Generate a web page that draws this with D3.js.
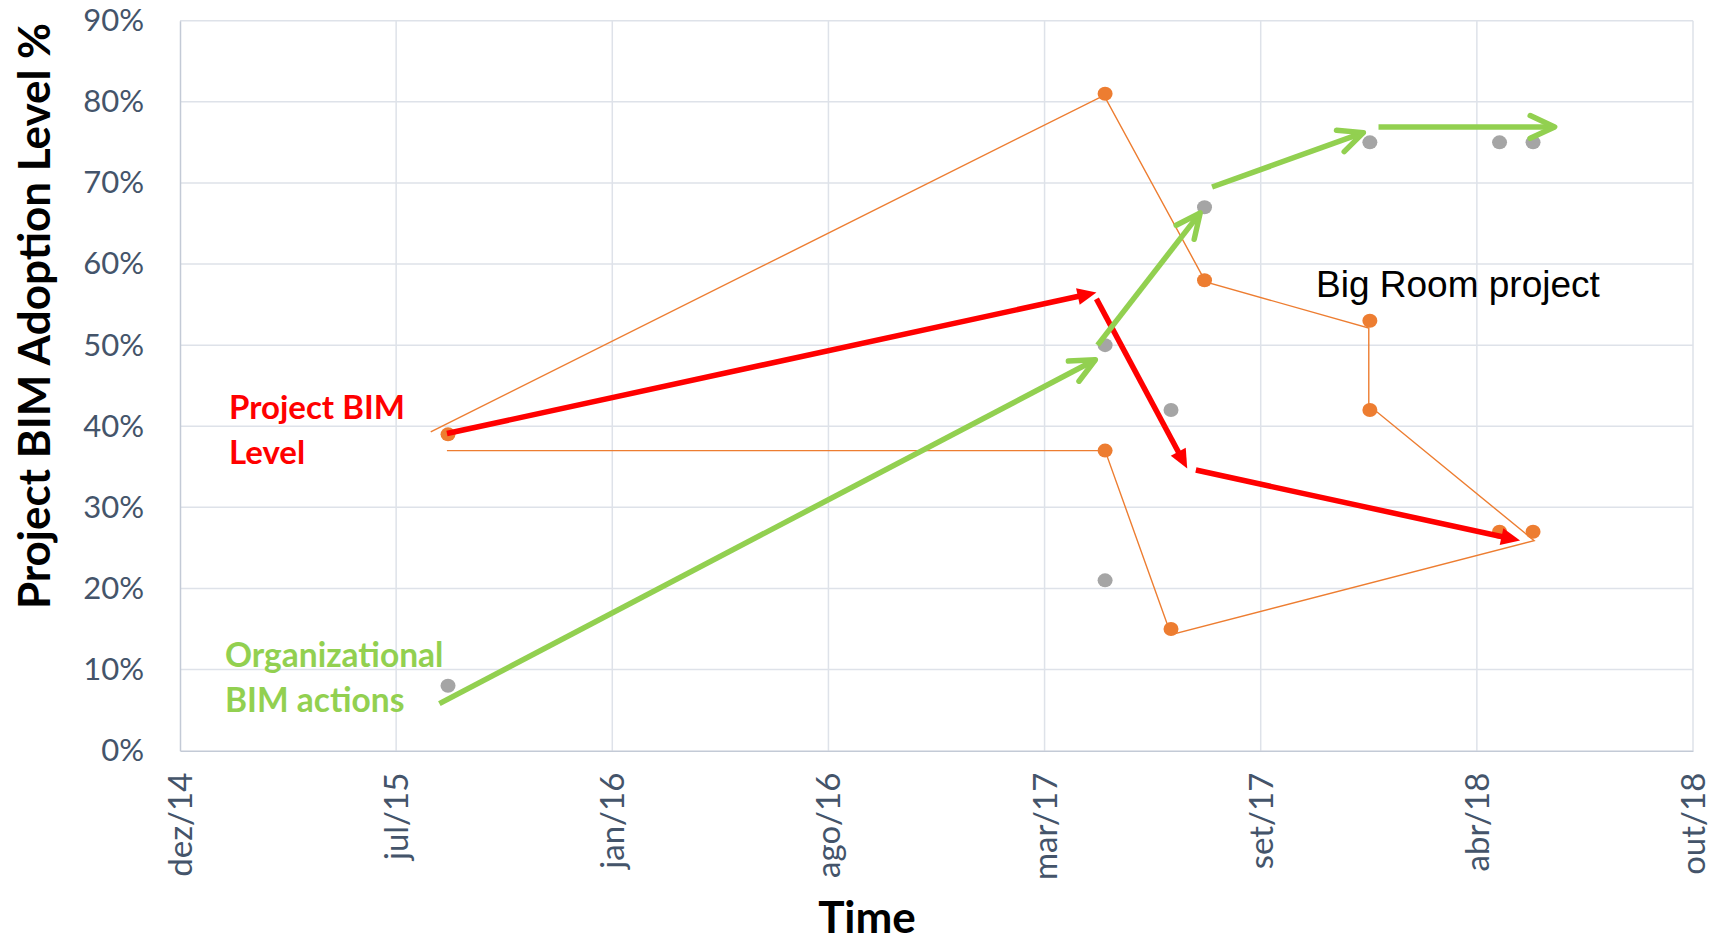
<!DOCTYPE html>
<html>
<head>
<meta charset="utf-8">
<script src="https://cdn.jsdelivr.net/npm/d3@7"></script>
<style>
  html, body { margin: 0; padding: 0; background: #fff; }
  svg { display: block; }
</style>
</head>
<body>
<svg id="chart" width="1719" height="943"></svg>
<script>
// ---- Axis definition (date axis with a 200-day major unit) ----
const axisStart = "2014-12-27";
const tickStepDays = 200;
const tickLabels = ["dez/14", "jul/15", "jan/16", "ago/16", "mar/17", "set/17", "abr/18", "out/18"];
const yTicks = [0, 10, 20, 30, 40, 50, 60, 70, 80, 90];

// ---- Organizational BIM actions (grey points) ----
const orgDates  = ["2015-09-01", "2017-05-01", "2017-05-01", "2017-07-01", "2017-08-01", "2018-01-01", "2018-05-01", "2018-06-01"];
const orgValues = [8, 50, 21, 42, 67, 75, 75, 75];

// ---- Project BIM level (orange points) ----
const projDates  = ["2015-09-01", "2017-05-01", "2017-05-01", "2017-07-01", "2017-08-01", "2018-01-01", "2018-01-01", "2018-05-01", "2018-06-01"];
const projValues = [39, 81, 37, 15, 58, 53, 42, 27, 27];

// ---- Big Room project trace (thin orange polyline) ----
const traceDates  = ["2015-08-16", "2017-04-30", "2017-08-02", "2017-12-31", "2017-12-31", "2018-06-02", "2017-07-01", "2017-05-01", "2015-08-31"];
const traceValues = [39.3, 80.8, 57.8, 52.1, 42.6, 25.9, 14.3, 37.0, 37.0];

// ---- Trend arrows: [fromDate, fromValue, toDate, toValue] ----
const projectTrend = [
  ["2015-08-31", 39.1, "2017-04-23", 56.5],
  ["2017-04-23", 55.7, "2017-07-16", 34.8],
  ["2017-07-24", 34.6, "2018-05-20", 25.9]
];
const orgTrend = [
  ["2015-08-24", 5.8, "2017-04-22", 48.2],
  ["2017-04-24", 50.0, "2017-07-28", 66.3],
  ["2017-08-08", 69.5, "2017-12-26", 76.2],
  ["2018-01-09", 76.9, "2018-06-21", 76.9]
];

// ---- Layout ----
const W = 1719, H = 943;
const plot = { left: 180, right: 1693, top: 20.7, bottom: 750.7 };

const parse = d3.utcParse("%Y-%m-%d");
const start = parse(axisStart);
const tickDates = tickLabels.map((_, i) => d3.utcDay.offset(start, i * tickStepDays));

const x = d3.scaleUtc()
  .domain([tickDates[0], tickDates[tickDates.length - 1]])
  .range([plot.left, plot.right]);
const y = d3.scaleLinear()
  .domain([0, 90])
  .range([plot.bottom, plot.top]);

const svg = d3.select("#chart");
const tickColor = "#44546A";
const gridColor = "#DEE2E9";
const axisColor = "#C3CAD6";
const uiFont = "Lato, 'Open Sans', sans-serif";

// ---- Gridlines ----
const grid = svg.append("g");
grid.selectAll("line.h")
  .data(yTicks.filter(v => v > 0))
  .join("line")
  .attr("x1", plot.left).attr("x2", plot.right)
  .attr("y1", d => y(d)).attr("y2", d => y(d))
  .attr("stroke", gridColor).attr("stroke-width", 1.5);
grid.selectAll("line.v")
  .data(tickDates.slice(1))
  .join("line")
  .attr("x1", d => x(d)).attr("x2", d => x(d))
  .attr("y1", plot.top).attr("y2", plot.bottom)
  .attr("stroke", gridColor).attr("stroke-width", 1.5);

// ---- Axes ----
const yAxis = d3.axisLeft(y)
  .tickValues(yTicks)
  .tickFormat(d => d + "%")
  .tickSize(0)
  .tickPadding(36);
const gy = svg.append("g")
  .attr("transform", `translate(${plot.left},0)`)
  .call(yAxis);
gy.select(".domain").attr("stroke", axisColor).attr("stroke-width", 1.5);
gy.selectAll("text")
  .attr("fill", tickColor)
  .style("font-family", uiFont)
  .style("font-size", "31px");

const xAxis = d3.axisBottom(x)
  .tickValues(tickDates)
  .tickFormat((d, i) => tickLabels[i])
  .tickSize(0);
const gx = svg.append("g")
  .attr("transform", `translate(0,${plot.bottom})`)
  .call(xAxis);
gx.select(".domain").attr("stroke", axisColor).attr("stroke-width", 1.5);
gx.selectAll("text")
  .attr("fill", tickColor)
  .style("font-family", uiFont)
  .style("font-size", "33px")
  .attr("text-anchor", "end")
  .attr("x", 0)
  .attr("y", 0)
  .attr("dy", "0.35em")
  .attr("transform", "translate(0,22) rotate(-90)");

// ---- Axis titles ----
svg.append("text")
  .attr("transform", "translate(50,316) rotate(-90)")
  .attr("text-anchor", "middle")
  .style("font-family", uiFont)
  .style("font-weight", 700)
  .style("font-size", "44px")
  .attr("fill", "#000")
  .text("Project BIM Adoption Level %");

svg.append("text")
  .attr("x", 867).attr("y", 933)
  .attr("text-anchor", "middle")
  .style("font-family", uiFont)
  .style("font-weight", 700)
  .style("font-size", "44px")
  .attr("fill", "#000")
  .text("Time");

// ---- Big Room trace ----
const traceLine = d3.line()
  .x(d => x(parse(d[0])))
  .y(d => y(d[1]));
svg.append("path")
  .datum(d3.zip(traceDates, traceValues))
  .attr("d", traceLine)
  .attr("fill", "none")
  .attr("stroke", "#ED7D31")
  .attr("stroke-width", 1.4)
  .attr("stroke-linejoin", "miter");

// ---- Points ----
svg.append("g").selectAll("ellipse")
  .data(d3.zip(orgDates, orgValues))
  .join("ellipse")
  .attr("cx", d => x(parse(d[0])))
  .attr("cy", d => y(d[1]))
  .attr("rx", 7.5).attr("ry", 7)
  .attr("fill", "#A5A5A5");

svg.append("g").selectAll("ellipse")
  .data(d3.zip(projDates, projValues))
  .join("ellipse")
  .attr("cx", d => x(parse(d[0])))
  .attr("cy", d => y(d[1]))
  .attr("rx", 7.5).attr("ry", 7)
  .attr("fill", "#ED7D31");

// ---- Arrows ----
function ends(a) {
  const x1 = x(parse(a[0])), y1 = y(a[1]);
  const x2 = x(parse(a[2])), y2 = y(a[3]);
  const len = Math.hypot(x2 - x1, y2 - y1);
  return { x1, y1, x2, y2, ux: (x2 - x1) / len, uy: (y2 - y1) / len };
}

// Red: solid shaft with a filled triangular head
const redG = svg.append("g");
projectTrend.forEach(a => {
  const e = ends(a);
  const L = 19, Wd = 17;
  const bx = e.x2 - e.ux * L, by = e.y2 - e.uy * L;
  const nx = -e.uy, ny = e.ux;
  redG.append("line")
    .attr("x1", e.x1).attr("y1", e.y1)
    .attr("x2", e.x2 - e.ux * (L - 2)).attr("y2", e.y2 - e.uy * (L - 2))
    .attr("stroke", "#FF0000").attr("stroke-width", 5.5);
  redG.append("polygon")
    .attr("points", [
      [e.x2, e.y2],
      [bx + nx * Wd / 2, by + ny * Wd / 2],
      [bx - nx * Wd / 2, by - ny * Wd / 2]
    ].map(p => p.join(",")).join(" "))
    .attr("fill", "#FF0000");
});

// Green: solid shaft with an open chevron head
const greenG = svg.append("g");
orgTrend.forEach(a => {
  const e = ends(a);
  const arm = 27, ang = 25 * Math.PI / 180;
  const bxDir = -e.ux, byDir = -e.uy;
  const rot = t => [bxDir * Math.cos(t) - byDir * Math.sin(t), bxDir * Math.sin(t) + byDir * Math.cos(t)];
  const r1 = rot(ang), r2 = rot(-ang);
  greenG.append("line")
    .attr("x1", e.x1).attr("y1", e.y1)
    .attr("x2", e.x2).attr("y2", e.y2)
    .attr("stroke", "#92D050").attr("stroke-width", 5.5);
  greenG.append("path")
    .attr("d", `M${e.x2 + r1[0] * arm},${e.y2 + r1[1] * arm} L${e.x2},${e.y2} L${e.x2 + r2[0] * arm},${e.y2 + r2[1] * arm}`)
    .attr("fill", "none")
    .attr("stroke", "#92D050").attr("stroke-width", 5.5)
    .attr("stroke-linecap", "round").attr("stroke-linejoin", "round");
});

// ---- Annotations ----
function label(lines, x0, y0, dy, color, font, size, weight) {
  const t = svg.append("text")
    .attr("fill", color)
    .style("font-family", font)
    .style("font-size", size + "px")
    .style("font-weight", weight);
  lines.forEach((s, i) => t.append("tspan").attr("x", x0).attr("y", y0 + i * dy).text(s));
}
label(["Project BIM", "Level"], 229, 419, 45, "#FF0000", uiFont, 33, 700);
label(["Organizational", "BIM actions"], 225, 667, 45, "#92D050", uiFont, 33.5, 700);
label(["Big Room project"], 1316, 297, 0, "#000000", "'Liberation Sans', Arial, sans-serif", 37, 400);
</script>
</body>
</html>
